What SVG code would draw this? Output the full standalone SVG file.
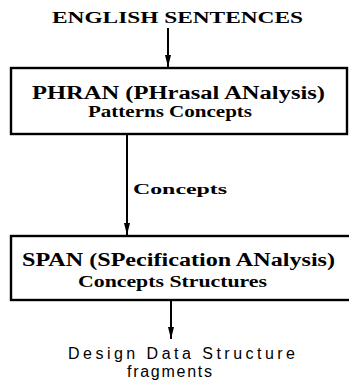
<svg xmlns="http://www.w3.org/2000/svg" width="349" height="387" viewBox="0 0 349 387">
<defs>
<marker id="ah" viewBox="0 0 12 6" refX="12" refY="3" markerWidth="6" markerHeight="3.2" orient="auto" markerUnits="strokeWidth">
<path d="M0,0 L12,3 L0,6 Z" fill="#000"/>
</marker>
</defs>
<style>
.b{font-family:"Liberation Serif",serif;font-weight:bold;fill:#000;text-anchor:middle}
.s{font-family:"Liberation Sans",sans-serif;fill:#000;text-anchor:middle}
.box{fill:#fff;stroke:#000;stroke-width:2.4}
.c{stroke:#000;stroke-width:2;fill:none}
</style>
<rect width="349" height="387" fill="#fff"/>
<g id="n_english">
<text class="b" x="177.5" y="23" font-size="16" textLength="251" lengthAdjust="spacingAndGlyphs">ENGLISH SENTENCES</text>
</g>
<g id="n_phran">
<rect class="box" x="11" y="68" width="336" height="66"/>
<text class="b" x="178.5" y="99" font-size="18" textLength="293" lengthAdjust="spacingAndGlyphs">PHRAN (PHrasal ANalysis)</text>
<text class="b" x="170" y="117" font-size="17" textLength="164" lengthAdjust="spacingAndGlyphs">Patterns Concepts</text>
</g>
<g id="n_span">
<rect class="box" x="11" y="236" width="345" height="64"/>
<text class="b" x="178.5" y="266" font-size="18" textLength="313" lengthAdjust="spacingAndGlyphs">SPAN (SPecification ANalysis)</text>
<text class="b" x="172.5" y="287" font-size="17" textLength="189" lengthAdjust="spacingAndGlyphs">Concepts Structures</text>
</g>
<g id="n_output">
<text class="s" x="181.5" y="359" font-size="16" textLength="227" lengthAdjust="spacing">Design Data Structure</text>
<text class="s" x="169.5" y="377" font-size="16" textLength="85" lengthAdjust="spacing">fragments</text>
</g>
<g id="connectors">
<line class="c" x1="168" y1="28" x2="168" y2="67" marker-end="url(#ah)"/>
<line class="c" x1="127" y1="135" x2="127" y2="235" marker-end="url(#ah)"/>
<text class="b" x="133" y="194" font-size="15" textLength="94" lengthAdjust="spacingAndGlyphs" style="text-anchor:start">Concepts</text>
<line class="c" x1="171" y1="301" x2="171" y2="339" marker-end="url(#ah)"/>
</g>
</svg>
